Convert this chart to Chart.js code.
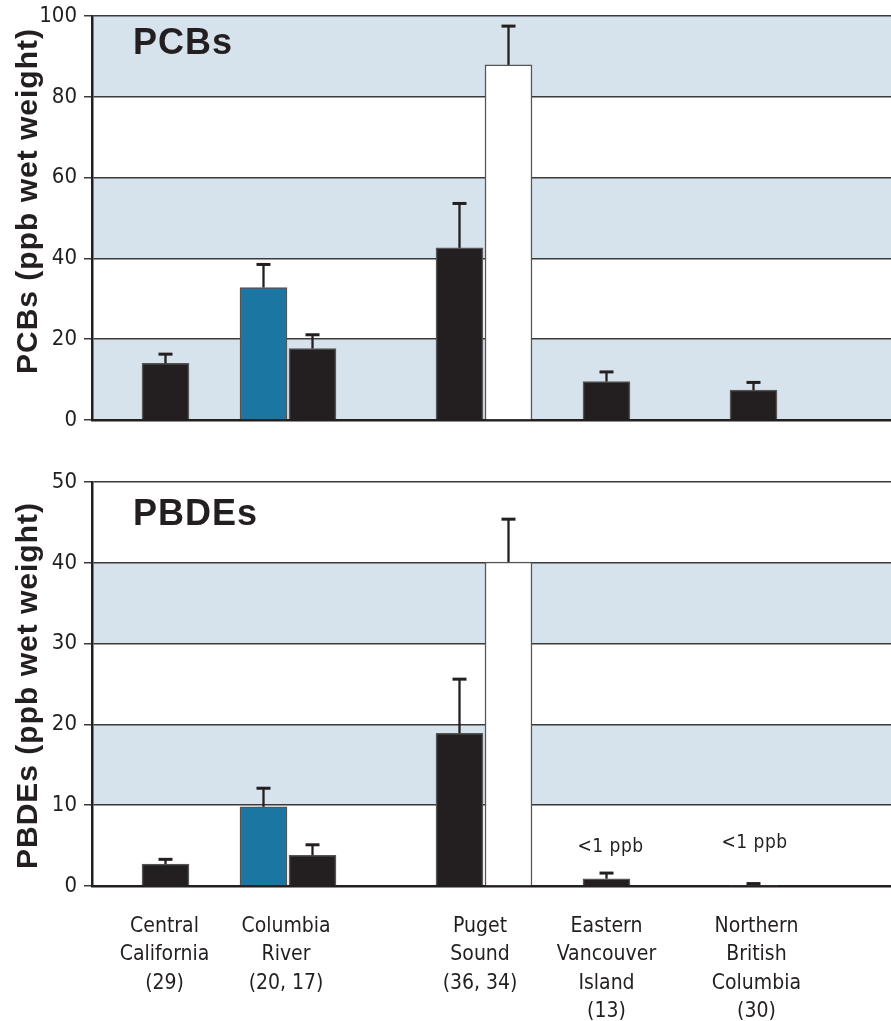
<!DOCTYPE html>
<html><head><meta charset="utf-8">
<script src="https://cdn.jsdelivr.net/npm/chart.js@4.4.1/dist/chart.umd.min.js"></script>
<style>
html,body{margin:0;padding:0;background:#fff;}
#wrap{position:relative;width:891px;height:1021px;overflow:hidden;}
canvas{position:absolute;left:0;}
</style></head><body>
<div id="wrap">
<canvas id="c1" width="891" height="440" style="top:0"></canvas>
<canvas id="c2" width="891" height="581" style="top:440px"></canvas>
</div>
<script>
// ---------- data ----------
const categories = [
  ['Central', 'California', '(29)'],
  ['Columbia', 'River', '(20, 17)'],
  ['Puget', 'Sound', '(36, 34)'],
  ['Eastern', 'Vancouver', 'Island', '(13)'],
  ['Northern', 'British', 'Columbia', '(30)']
];
const pcbFirst      = [14.0, 32.8, 42.6, 9.5, 7.4];
const pcbFirstErr   = [2.3, 5.7, 11.0, 2.4, 1.9];
const pcbSecond     = [null, 17.7, 87.9, null, null];
const pcbSecondErr  = [null, 3.4, 9.6, null, null];
const pbdeFirst     = [2.7, 9.8, 18.9, 0.9, 0.05];
const pbdeFirstErr  = [0.6, 2.3, 6.7, 0.7, 0.25];
const pbdeSecond    = [null, 3.8, 40.1, null, null];
const pbdeSecondErr = [null, 1.3, 5.3, null, null];
const pcbTicks  = [0, 20, 40, 60, 80, 100];
const pbdeTicks = [0, 10, 20, 30, 40, 50];
const pbdeNotes = ['', '', '', '<1 ppb', '<1 ppb'];

// ---------- layout / style ----------
const INK = '#231f20';
const BLUE = '#1b76a1';
const SHADE = '#d7e3ec';
const NARROW = "'Liberation Sans Narrow', 'Arial Narrow', 'DejaVu Sans Condensed', sans-serif";
const BOLD = "'Liberation Sans', Arial, Helvetica, sans-serif";
const groupSlot = [1.5, 4, 8, 10.5, 13.5];          // bar group centres, slot units (49px each)
const labelSlot = [1.48, 3.96, 7.92, 10.5, 13.56];  // label centres, slot units
const firstColors = [INK, BLUE, INK, INK, INK];
const secondColors = [null, INK, '#ffffff', null, null];
const X_MAX = (891 - 92) / 49;

function buildBars(first, firstErr, second, secondErr) {
  const pts = [], errs = [], cols = [];
  first.forEach((v, i) => {
    if (second[i] == null) {
      pts.push({x: groupSlot[i], y: v}); errs.push(firstErr[i]); cols.push(firstColors[i]);
    } else {
      pts.push({x: groupSlot[i] - 0.5, y: v}); errs.push(firstErr[i]); cols.push(firstColors[i]);
      pts.push({x: groupSlot[i] + 0.5, y: second[i]}); errs.push(secondErr[i]); cols.push(secondColors[i]);
    }
  });
  return {pts, errs, cols};
}

const bandsPlugin = {
  id: 'bands',
  beforeDraw(chart, args, opts) {
    const {ctx, chartArea: a} = chart;
    const ys = chart.scales.y;
    ctx.save();
    ctx.fillStyle = SHADE;
    opts.bands.forEach(([lo, hi]) => {
      const y1 = ys.getPixelForValue(hi), y2 = ys.getPixelForValue(lo);
      ctx.fillRect(a.left, y1, a.right - a.left, y2 - y1);
    });
    ctx.restore();
    ctx.letterSpacing = '0px';
  }
};

const errorBarPlugin = {
  id: 'errbars',
  afterDatasetsDraw(chart, args, opts) {
    const {ctx} = chart;
    const ys = chart.scales.y;
    const meta = chart.getDatasetMeta(0);
    const data = chart.data.datasets[0].data;
    ctx.save();
    ctx.strokeStyle = INK;
    meta.data.forEach((bar, i) => {
      const e = opts.errors[i];
      if (e == null) return;
      const v = data[i].y;
      const yTop = ys.getPixelForValue(v + e);
      const yBar = ys.getPixelForValue(v);
      ctx.lineWidth = 2.3;
      ctx.beginPath(); ctx.moveTo(bar.x, yBar); ctx.lineTo(bar.x, yTop); ctx.stroke();
      ctx.lineWidth = 3;
      ctx.beginPath(); ctx.moveTo(bar.x - 7, yTop); ctx.lineTo(bar.x + 7, yTop); ctx.stroke();
    });
    ctx.restore();
  }
};

const textPlugin = {
  id: 'texts',
  afterDraw(chart, args, opts) {
    const {ctx, chartArea: a} = chart;
    ctx.save();
    // panel label
    ctx.letterSpacing = '1px';
    ctx.fillStyle = INK;
    ctx.font = 'bold 36px ' + BOLD;
    ctx.textAlign = 'left';
    ctx.textBaseline = 'alphabetic';
    ctx.fillText(opts.panel, a.left + 41, a.top + opts.panelDy);
    // y title
    ctx.font = 'bold 30px ' + BOLD;
    ctx.textAlign = 'center';
    ctx.translate(37, (a.top + a.bottom) / 2 + opts.titleDy);
    ctx.rotate(-Math.PI / 2);
    ctx.fillText(opts.yTitle, 0, 0);
    ctx.restore();
    // notes
    if (opts.notes) {
      const ys = chart.scales.y;
      ctx.save();
      ctx.letterSpacing = '0.5px';
      ctx.fillStyle = INK;
      ctx.font = '19px ' + NARROW;
      ctx.textAlign = 'center';
      ctx.textBaseline = 'middle';
      opts.notes.forEach((t, gi) => {
        if (!t) return;
        const xs = chart.scales.x.getPixelForValue(groupSlot[gi]);
        ctx.fillText(t, xs + opts.noteDx[gi], ys.getPixelForValue(0) - opts.noteDy[gi]);
      });
      ctx.restore();
    }
  }
};

function makeChart(id, first, firstErr, second, secondErr, ticks, opts) {
  const b = buildBars(first, firstErr, second, secondErr);
  return new Chart(document.getElementById(id), {
    type: 'bar',
    data: {
      datasets: [{
        data: b.pts,
        backgroundColor: b.cols,
        borderColor: '#555555',
        borderWidth: 1.5,
        borderSkipped: 'start',
        barThickness: 47
      }]
    },
    options: {
      responsive: false,
      animation: false,
      devicePixelRatio: 1,
      layout: {padding: {top: opts.padTop, right: 0, left: 0, bottom: 0}},
      plugins: {
        legend: {display: false},
        tooltip: {enabled: false},
        bands: {bands: opts.bands},
        errbars: {errors: b.errs},
        texts: {panel: opts.panel, panelDy: opts.panelDy, yTitle: opts.yTitle, titleDy: opts.titleDy,
                notes: opts.notes, noteDy: opts.noteDy, noteDx: opts.noteDx}
      },
      scales: {
        x: {
          type: 'linear',
          min: 0, max: X_MAX,
          offset: false,
          grid: {display: false, offset: false},
          border: {display: true, color: INK, width: 2.5},
          afterBuildTicks: s => { s.ticks = labelSlot.map(v => ({value: v})); },
          afterFit: s => { s.height = opts.xHeight; s.paddingLeft = 0; s.paddingRight = 0; },
          ticks: {
            display: opts.showX,
            autoSkip: false,
            maxRotation: 0,
            padding: 18,
            color: INK,
            font: {family: NARROW, size: 21, lineHeight: 1.357},
            callback: (v, i) => categories[i]
          }
        },
        y: {
          min: ticks[0], max: ticks[ticks.length - 1],
          afterBuildTicks: s => { s.ticks = ticks.map(v => ({value: v})); },
          afterFit: s => { s.width = 92; s.paddingTop = 0; s.paddingBottom = 0; },
          grid: {color: '#3a3a3a', lineWidth: 1.5, tickLength: 8, drawTicks: true},
          border: {display: true, color: INK, width: 2.5},
          ticks: {
            padding: 7,
            color: INK,
            font: {family: NARROW, size: 22},
            callback: v => String(v)
          }
        }
      }
    },
    plugins: [bandsPlugin, errorBarPlugin, textPlugin]
  });
}

makeChart('c1', pcbFirst, pcbFirstErr, pcbSecond, pcbSecondErr, pcbTicks, {
  padTop: 16, xHeight: 20, showX: false,
  bands: [[0, 20], [40, 60], [80, 100]],
  panel: 'PCBs', panelDy: 38, yTitle: 'PCBs (ppb wet weight)', titleDy: -17
});
makeChart('c2', pbdeFirst, pbdeFirstErr, pbdeSecond, pbdeSecondErr, pbdeTicks, {
  padTop: 42, xHeight: 135, showX: true,
  bands: [[10, 20], [30, 40]],
  panel: 'PBDEs', panelDy: 43, yTitle: 'PBDEs (ppb wet weight)', titleDy: 1.5,
  notes: pbdeNotes, noteDy: [39, 43, 39, 39, 43], noteDx: [0, 0, 0, 4, 1]
});
</script>
</body></html>
